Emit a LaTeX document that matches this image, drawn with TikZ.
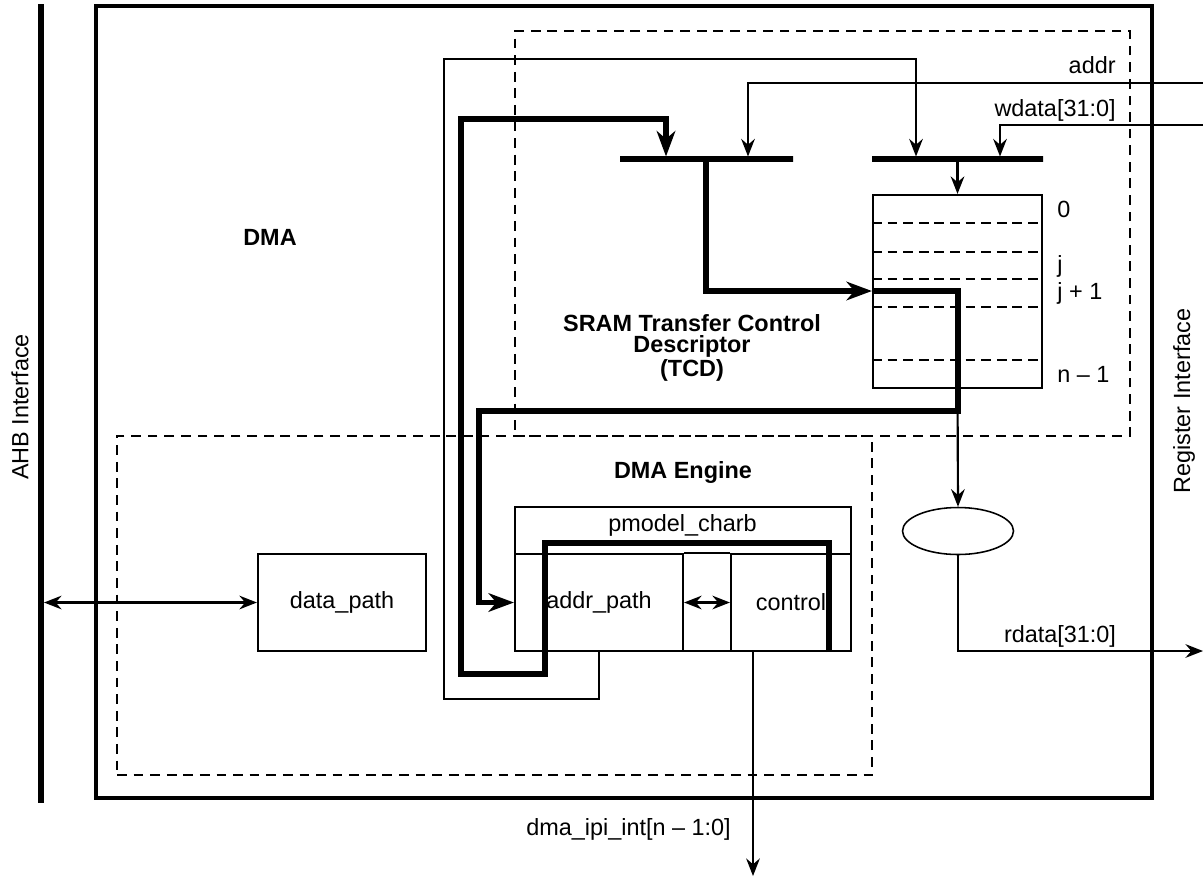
\documentclass[tikz,border=0pt]{standalone}
\usepackage{fontspec}
\setmainfont{Liberation Sans}
\usepackage{tikz}
\usetikzlibrary{arrows.meta,shapes.geometric}

% one pixel of the drawing
\newcommand{\pxu}{0.018cm}

\tikzset{
  blk/.style={draw, line width=1.1pt, inner sep=0pt},
  dashblk/.style={draw, line width=1.1pt, dash pattern=on 5pt off 3.5pt, inner sep=0pt},
  muxbar/.style={draw, line width=2.6pt, inner sep=0pt, minimum height=0pt},
  thinarrow/.style={line width=1.1pt, -{Stealth[length=9pt,width=7pt,inset=3pt]}},
  thickarrow/.style={line width=2.6pt, -{Stealth[length=13pt,width=9.5pt,inset=4pt]}},
  dblarrow/.style={line width=1.1pt, {Stealth[length=9pt,width=7pt,inset=3pt]}-{Stealth[length=9pt,width=7pt,inset=3pt]}},
  lbl/.style={font=\fontsize{12}{14}\selectfont, inner sep=0pt},
  boldlbl/.style={font=\bfseries\fontsize{12}{11}\selectfont, inner sep=0pt, align=center}
}

\begin{document}
\begin{tikzpicture}[x=0.018cm, y=-0.018cm]

    \useasboundingbox (0,0) rectangle (1203,877);

    % Interfaces on both sides
    \coordinate (ahbT) at (41,4);
    \coordinate (ahbB) at (41,803);
    \draw[line width=3.2pt] (ahbT) -- (ahbB);
    \node[lbl, rotate=90] (ahblbl) at (20,407) {AHB Interface};
    \node[lbl, rotate=90] (reglbl) at (1184,401) {Register Interface};

    % DMA block and its two dashed regions
    \node[draw, line width=1.7pt, minimum width=1056*\pxu, minimum height=792*\pxu] (dma) at (624,402) {};
    \node[boldlbl] (dmalbl) at (270,237) {DMA};

    \node[dashblk, minimum width=615*\pxu, minimum height=405*\pxu] (tcd) at (822.5,233.5) {};
    \node[boldlbl] (tcdlbl) at (692,348) {SRAM Transfer Control\\Descriptor\\(TCD)};

    \node[dashblk, minimum width=755*\pxu, minimum height=339*\pxu] (engine) at (494.5,605.5) {};
    \node[boldlbl] (enginelbl) at (683,472) {DMA Engine};

    % Engine blocks
    \node[blk, minimum width=336*\pxu, minimum height=144*\pxu] (pmodel) at (683,579) {};
    \node[lbl] (pmlbl) at (682.5,525) {pmodel\_charb};
    \node[blk, lbl, minimum width=168*\pxu, minimum height=97*\pxu] (addrp) at (599,602.5) {addr\_path};
    \node[blk, lbl, minimum width=120*\pxu, minimum height=97*\pxu] (control) at (791,602.5) {control};
    \draw[line width=1.1pt] (addrp.north east) -- (control.north west);
    \node[blk, lbl, minimum width=168*\pxu, minimum height=97*\pxu] (datap) at (342,602.5) {data\_path};

    % Descriptor table with its rows
    \node[blk, minimum width=169*\pxu, minimum height=193*\pxu] (tcdtab) at (957.5,291.5) {};
    \foreach \ry in {223,252,279,307,360}
        \draw[line width=1.1pt, dash pattern=on 5pt off 3pt] (tcdtab.west |- 0,\ry) -- (tcdtab.east |- 0,\ry);
    \node[lbl, anchor=base west] (row0) at (1057,217) {0};
    \node[lbl, anchor=base west] (rowj) at (1057,272) {j};
    \node[lbl, anchor=base west] (rowj1) at (1057,299) {j + 1};
    \node[lbl, anchor=base west] (rown) at (1057,382) {n -- 1};

    % Selectors above the table
    \node[muxbar, minimum width=173*\pxu] (muxa) at (706.5,159) {};
    \node[muxbar, minimum width=171*\pxu] (muxb) at (957.5,159) {};

    % Read selector
    \node[draw, ellipse, line width=0.8pt, inner sep=0pt, minimum width=111*\pxu, minimum height=47*\pxu] (rdsel) at (958,531) {};

    % Outside ports
    \coordinate (addrin) at (1203,83);
    \coordinate (wdatain) at (1203,125);
    \coordinate (rdout) at (1203,651);
    \coordinate (intout) at (753,876);
    \coordinate (ahbport) at (44,602.5);

    \node[lbl, anchor=east] (addrlbl) at (1116,65.5) {addr};
    \node[lbl, anchor=east] (wdatalbl) at (1116,110) {wdata[31:0]};
    \node[lbl] (rdatalbl) at (1060,636.5) {rdata[31:0]};
    \node[lbl] (intlbl) at (628.5,829.5) {dma\_ipi\_int[n -- 1:0]};

    % Thin connections
    \draw[thinarrow] (addrin) -| (muxa.north -| 748,0);
    \draw[thinarrow] (wdatain) -| (muxb.north -| 1000,0);
    \draw[thinarrow] (addrp.south) -- ++(0,47) -| (444,59) -| (muxb.north -| 916,0);
    \draw[thinarrow] (muxb.south -| tcdtab.north) -- (tcdtab.north);
    \draw[thinarrow] (tcdtab.south) -- (rdsel.north);
    \draw[thinarrow] (rdsel.south) |- (rdout);
    \draw[thinarrow] (control.south -| intout) -- (intout);
    \draw[dblarrow] (ahbport) -- (datap.west);
    \draw[dblarrow] (addrp.east) -- (control.west);

    % Thick connections
    \draw[thickarrow] (control.south -| 829,0) |- (545,543) |- (461,674) |- (666,119) -- (muxa.north -| 666,0);
    \draw[thickarrow] (muxa.south -| 706,0) |- (tcdtab.west |- 0,291);
    \draw[thickarrow] (tcdtab.west |- 0,291) -| (958,411) -- (479,411) |- (addrp.west);

\end{tikzpicture}
\end{document}
